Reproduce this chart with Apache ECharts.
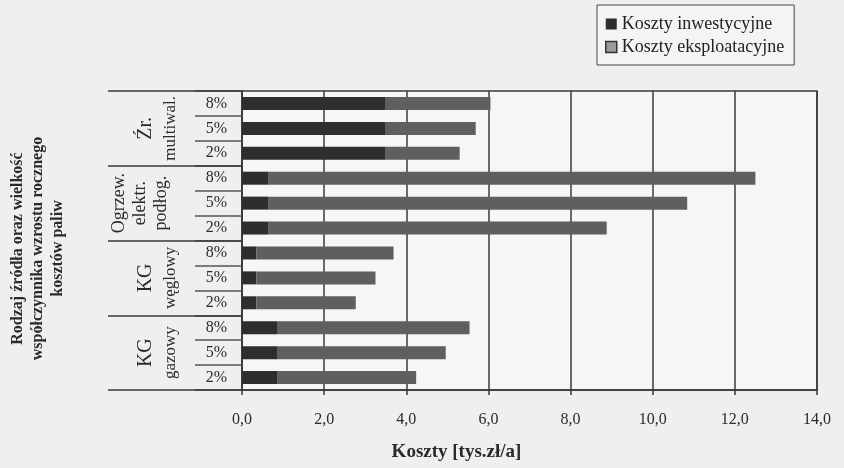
<!DOCTYPE html>
<html>
<head>
<meta charset="utf-8">
<script src="https://cdn.jsdelivr.net/npm/echarts@6/dist/echarts.min.js"></script>
<style>
html,body{margin:0;padding:0;background:#efefef;}
#c{width:844px;height:468px;}
</style>
</head>
<body>
<div id="c"></div>
<script>
// categories, bottom to top
const groupLabels = ['KG\ngazowy', 'KG\nwęglowy', 'Ogrzew.\nelektr.\npodłog.', 'Źr.\nmultiwal.'];
const rateLabels = ['2%', '5%', '8%'];
const categories = [
  'KGg-2%', 'KGg-5%', 'KGg-8%',
  'KGw-2%', 'KGw-5%', 'KGw-8%',
  'OEP-2%', 'OEP-5%', 'OEP-8%',
  'ZM-2%', 'ZM-5%', 'ZM-8%'
];
const categoryTickLabels = ['2%', '5%', '8%', '2%', '5%', '8%', '2%', '5%', '8%', '2%', '5%', '8%'];
// values [tys.zł/a]
const kosztyInwestycyjne = [0.87, 0.87, 0.87, 0.35, 0.35, 0.35, 0.65, 0.65, 0.65, 3.5, 3.5, 3.5];
const kosztyEksploatacyjne = [3.37, 4.09, 4.67, 2.42, 2.90, 3.34, 8.23, 10.19, 11.85, 1.80, 2.19, 2.55];
const xTicks = { min: 0, max: 14, interval: 2 };
const seriesNames = ['Koszty inwestycyjne', 'Koszty eksploatacyjne'];

const serif = '"Liberation Serif", "DejaVu Serif", serif';
const chart = echarts.init(document.getElementById('c'), null, { renderer: 'canvas' });

chart.setOption({
  backgroundColor: '#efefef',
  animation: false,
  legend: {
    orient: 'vertical',
    left: 597,
    top: 5,
    padding: [10, 10, 9, 8],
    itemGap: 5,
    itemWidth: 11,
    itemHeight: 11,
    borderColor: '#444',
    borderWidth: 1,
    backgroundColor: '#f4f4f4',
    textStyle: { fontFamily: serif, fontSize: 18, color: '#222' },
    data: [
      { name: seriesNames[0], icon: 'rect', itemStyle: { color: '#2e2e2e' } },
      { name: seriesNames[1], icon: 'rect', itemStyle: { color: '#9a9a9a', borderColor: '#333', borderWidth: 1.5 } }
    ]
  },
  grid: {
    left: 237, right: 27, top: 91, bottom: 78,
    show: true, backgroundColor: '#f6f6f6', borderColor: '#3a3a3a', borderWidth: 1.5
  },
  xAxis: {
    type: 'value',
    min: xTicks.min, max: xTicks.max, interval: xTicks.interval,
    axisLine: { show: true, lineStyle: { color: '#3a3a3a', width: 1.5 } },
    axisTick: { show: true, length: 5, lineStyle: { color: '#3a3a3a', width: 1.5 } },
    splitLine: { show: true, lineStyle: { color: '#3a3a3a', width: 1.5 } },
    axisLabel: {
      margin: 22, fontFamily: serif, fontSize: 16, color: '#2a2a2a',
      formatter: v => v.toFixed(1).replace('.', ',')
    },
    name: 'Koszty [tys.zł/a]',
    nameLocation: 'middle',
    nameGap: 53,
    nameTextStyle: {
      fontFamily: serif, fontSize: 19, fontWeight: 'bold', color: '#2a2a2a',
      padding: [0, 146, 0, 0]
    }
  },
  yAxis: [
    {
      type: 'category',
      data: categories,
      position: 'left',
      axisLine: { show: true, lineStyle: { color: '#3a3a3a', width: 1.5 } },
      axisTick: { show: true, interval: 0, length: 47, lineStyle: { color: '#555', width: 1.5 } },
      splitLine: { show: false },
      axisLabel: {
        interval: 0,
        margin: 15, fontFamily: serif, fontSize: 16, color: '#2a2a2a',
        formatter: (v, i) => categoryTickLabels[i]
      }
    },
    {
      type: 'category',
      data: groupLabels,
      position: 'left',
      gridIndex: 0,
      axisLine: { show: false },
      axisTick: { show: true, interval: 0, length: 134, lineStyle: { color: '#3a3a3a', width: 1.5 } },
      splitLine: { show: false },
      axisLabel: {
        interval: 0,
        rotate: 90,
        margin: 60,
        fontFamily: serif,
        color: '#2a2a2a',
        formatter: v => {
          const parts = v.split('\n');
          if (parts.length === 2) {
            return '{a|' + parts[0] + '}\n{b|' + parts[1] + '}';
          }
          return parts.map(p => '{c|' + p + '}').join('\n') + '\n{s| }';
        },
        rich: {
          a: { fontFamily: serif, fontSize: 20, lineHeight: 28, color: '#2a2a2a' },
          b: { fontFamily: serif, fontSize: 17, lineHeight: 22, color: '#2a2a2a' },
          c: { fontFamily: serif, fontSize: 18, lineHeight: 21, color: '#2a2a2a' },
          s: { fontSize: 8, lineHeight: 10 }
        }
      },
      name: 'Rodzaj źródła oraz wielkość\nwspółczynnika wzrostu rocznego\nkosztów paliw',
      nameLocation: 'middle',
      nameGap: 174,
      nameTextStyle: {
        fontFamily: serif, fontSize: 16, fontWeight: 'bold', color: '#2a2a2a', lineHeight: 20,
        padding: [0, 16, 0, 0]
      }
    }
  ],
  series: [
    {
      name: seriesNames[0],
      type: 'bar',
      stack: 'k',
      yAxisIndex: 0,
      barWidth: 13,
      itemStyle: { color: '#2e2e2e' },
      data: kosztyInwestycyjne
    },
    {
      name: seriesNames[1],
      type: 'bar',
      stack: 'k',
      yAxisIndex: 0,
      barWidth: 13,
      itemStyle: { color: '#5f5f5f' },
      data: kosztyEksploatacyjne
    }
  ]
});
</script>
</body>
</html>
